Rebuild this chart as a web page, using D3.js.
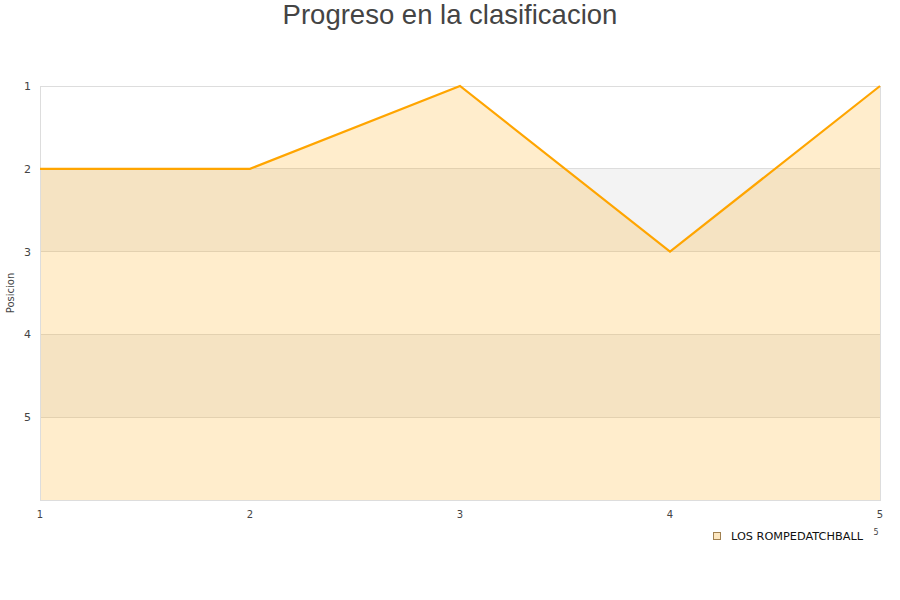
<!DOCTYPE html>
<html><head><meta charset="utf-8">
<script src="https://cdn.jsdelivr.net/npm/d3@7"></script>
<style>body{margin:0;background:#fff;} text{font-family:"DejaVu Sans",sans-serif;}</style>
</head><body>
<svg id="c" width="900" height="600"></svg>
<script>
const jornadas = [1, 2, 3, 4, 5];
const posiciones = [2, 2, 1, 3, 1];
const yTicks = [1, 2, 3, 4, 5];
const seriesName = "LOS ROMPEDATCHBALL";
const title = "Progreso en la clasificacion";
const yTitle = "Posicion";

const svg = d3.select("#c");
const L = 40, R = 880, T = 86, B = 500;
const x = d3.scaleLinear().domain([1, 5]).range([L, R]);
const y = d3.scaleLinear().domain([1, 6]).range([T, B]);

// bands
const bands = [[2,3],[4,5]];
svg.selectAll("rect.band").data(bands).enter().append("rect")
  .attr("x", L).attr("width", R - L)
  .attr("y", d => y(d[0])).attr("height", d => y(d[1]) - y(d[0]))
  .attr("fill", "#f3f3f3");

// grid lines
svg.selectAll("line.grid").data(yTicks).enter().append("line")
  .attr("x1", L).attr("x2", R).attr("y1", d => y(d)).attr("y2", d => y(d))
  .attr("stroke", "#dddddd").attr("stroke-width", 1).attr("shape-rendering","crispEdges");

// area
const area = d3.area().x((d,i) => x(jornadas[i])).y0(B).y1(d => y(d));
svg.append("path").datum(posiciones).attr("d", area)
  .attr("fill", "rgba(255,165,0,0.2)");

// border
svg.append("rect").attr("x", L).attr("y", T).attr("width", R-L).attr("height", B-T)
  .attr("fill", "none").attr("stroke", "#dddddd").attr("shape-rendering","crispEdges");

// line
const line = d3.line().x((d,i) => x(jornadas[i])).y(d => y(d));
svg.append("path").datum(posiciones).attr("d", line)
  .attr("fill", "none").attr("stroke", "#ffa500").attr("stroke-width", 2.2);

// y tick labels
svg.selectAll("text.yt").data(yTicks).enter().append("text")
  .attr("x", 31).attr("y", d => y(d) + 4).attr("text-anchor", "end")
  .attr("font-size", 11).attr("fill", "#444").text(d => d);

// x tick labels
svg.selectAll("text.xt").data(jornadas).enter().append("text")
  .attr("x", d => x(d)).attr("y", 518).attr("text-anchor", "middle")
  .attr("font-size", 10).attr("fill", "#444").text(d => d);

// title
svg.append("text").attr("x", 450).attr("y", 24).attr("text-anchor", "middle")
  .attr("font-size", 27.5).attr("fill", "#444")
  .style("font-family", "'Liberation Sans', Arial, sans-serif").text(title);

// y title
svg.append("text").attr("transform", "translate(14,293) rotate(-90)")
  .attr("text-anchor", "middle").attr("font-size", 10).attr("fill", "#444").text(yTitle);

// stray x-axis title fragment
svg.append("text").attr("x", 876).attr("y", 535).attr("text-anchor", "middle")
  .attr("font-size", 8).attr("fill", "#444").text("5");

// legend
svg.append("rect").attr("x", 713.5).attr("y", 532.5).attr("width", 7).attr("height", 7)
  .attr("fill", "#fde7c0").attr("stroke", "#a08050").attr("stroke-width", 1);
svg.append("text").attr("x", 731).attr("y", 540).attr("font-size", 11.3).attr("fill", "#111").text(seriesName);
</script>
</body></html>
